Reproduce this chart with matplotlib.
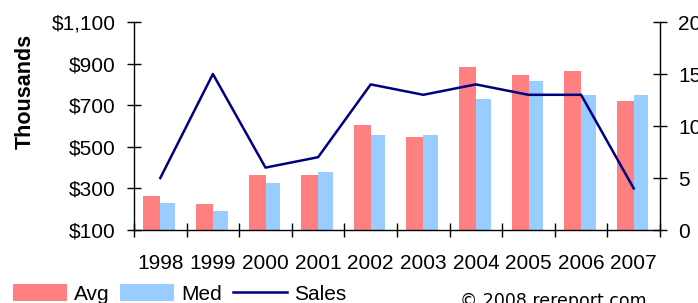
import matplotlib
matplotlib.use("Agg")
import matplotlib.pyplot as plt
from matplotlib.patches import Patch
from matplotlib.lines import Line2D
import numpy as np

years = ["1998", "1999", "2000", "2001", "2002", "2003", "2004", "2005", "2006", "2007"]
avg = [263, 225, 364, 364, 605, 547, 884, 845, 864, 720]
med = [231, 191, 326, 379, 557, 557, 730, 816, 749, 749]
sales = [5, 15, 6, 7, 14, 13, 14, 13, 13, 4]
left_ticks = [100, 300, 500, 700, 900, 1100]
right_ticks = [0, 5, 10, 15, 20]

plt.rcParams['font.family'] = ['Liberation Sans', 'DejaVu Sans']
FS = 15

fig = plt.figure(figsize=(6.98, 3.03), dpi=100)
ax = fig.add_axes([134/698, 1-230/303, (660-134)/698, (230-22)/303])
ax2 = ax.twinx()

x = np.arange(len(years)) + 0.5
ax.bar(x - 0.32, avg, width=0.32, bottom=0, align='edge', color='#FF8080', zorder=2)
ax.bar(x, med, width=0.28, align='edge', color='#99CCFF', zorder=2)
ax.set_ylim(100, 1100)
ax.set_xlim(0, len(years))
ax.set_yticks(left_ticks)
ax.set_yticklabels(["${:,}".format(v) for v in left_ticks], fontsize=FS)

ax.set_xticks(np.arange(len(years) + 1))
ax.set_xticklabels([])
ax.set_xticks(x, minor=True)
ax.set_xticklabels(years, minor=True, fontsize=FS)
ax.tick_params(axis='x', which='major', direction='inout', length=10, width=1, color='#000000')
ax.tick_params(axis='x', which='minor', length=0, pad=17)
ax.tick_params(axis='y', direction='inout', length=10, width=1, pad=8)

ax2.plot(x, sales, color='#000080', lw=1.8, zorder=3)
ax2.set_ylim(0, 20)
ax2.set_yticks(right_ticks)
ax2.set_yticklabels([str(v) for v in right_ticks], fontsize=FS)
ax2.tick_params(axis='y', direction='inout', length=10, width=1, pad=8)

for a in (ax, ax2):
    a.spines['top'].set_visible(False)
    for s in ('left', 'right', 'bottom'):
        a.spines[s].set_color('#000000')
        a.spines[s].set_linewidth(1)
ax.spines['right'].set_visible(False)
ax2.spines['left'].set_visible(False)
ax2.spines['bottom'].set_visible(False)

fig.text(25/698, 1-91/303, "Thousands", rotation=90, fontsize=15.5, fontweight='bold',
         ha='center', va='center')

handles = [Patch(facecolor='#FF8080', edgecolor='none'),
           Patch(facecolor='#99CCFF', edgecolor='none'),
           Line2D([0], [0], color='#000080', lw=1.8)]
fig.legend(handles, ["Avg", "Med", "Sales"], loc='lower left',
           bbox_to_anchor=(-2/698, -0.05), ncol=3, frameon=False, fontsize=FS,
           handlelength=2.6, handleheight=0.85, handletextpad=0.35,
           columnspacing=0.5, borderpad=0.2)

fig.text(460/698, -0.022, "\u00a9 2008 rereport.com", fontsize=12.5,
         family='DejaVu Sans', ha='left', va='bottom')

fig.savefig("out.png", dpi=100)
